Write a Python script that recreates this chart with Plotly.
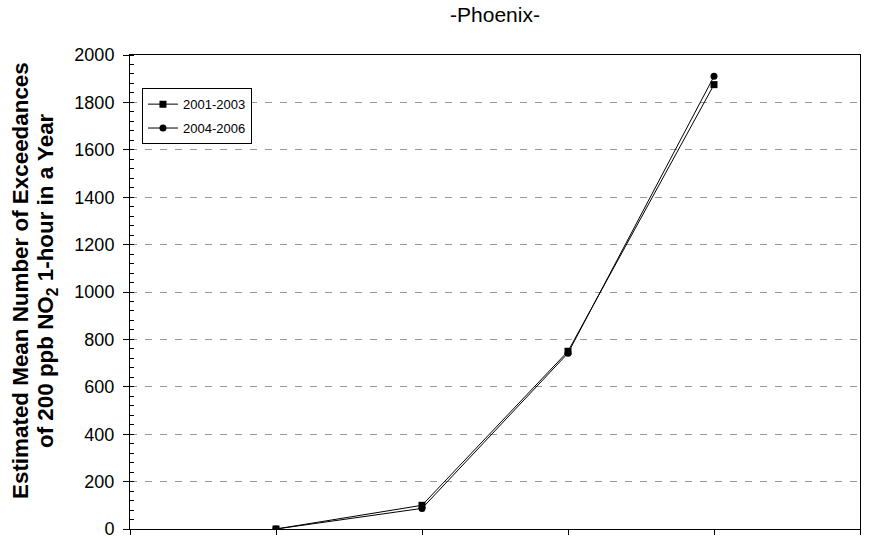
import plotly.graph_objects as go

# Data
categories = [1, 2, 3, 4]
series_names = ["2001-2003", "2004-2006"]
values_2001_2003 = [0, 100, 750, 1875]
values_2004_2006 = [0, 87, 742, 1910]
y_ticks = list(range(0, 2001, 200))
y_title_lines = ["Estimated Mean Number of Exceedances",
                 "of 200 ppb NO<sub>2</sub> 1-hour in a Year"]

FONT = "Liberation Sans, Arial, sans-serif"
L, R, T, B, W, H = 130, 17, 55, 10, 877, 539
PW = W - L - R
PH = H - T - B

fig = go.Figure()
fig.add_trace(go.Scatter(
    x=categories, y=values_2001_2003, name=series_names[0], mode="lines+markers",
    line=dict(color="black", width=1),
    marker=dict(symbol="square", size=7, color="black"),
    legendgroup="a",
))
fig.add_trace(go.Scatter(
    x=categories, y=values_2004_2006, name=series_names[1], mode="lines+markers",
    line=dict(color="black", width=1),
    marker=dict(symbol="circle", size=7, color="black"),
    legendgroup="b",
))

fig.update_layout(
    width=W, height=H,
    margin=dict(l=L, r=R, t=T, b=B),
    paper_bgcolor="white", plot_bgcolor="white",
    font=dict(family=FONT, color="black", size=18),
    title=dict(text="-Phoenix-", x=0.5, xref="paper", xanchor="center",
               y=1 - 15 / H, yref="container", yanchor="middle",
               font=dict(size=21, family=FONT)),
    showlegend=True,
    legend=dict(x=0.0164, y=0.93, xanchor="left", yanchor="top",
                bordercolor="black", borderwidth=1, bgcolor="white",
                font=dict(size=13, family=FONT), tracegroupgap=4,
                traceorder="grouped", entrywidth=80, entrywidthmode="pixels"),
)

# Y-axis title as two rotated text lines
for px, line in zip([20, 47], y_title_lines):
    fig.add_annotation(
        text="<b>" + line + "</b>", xref="paper", yref="paper",
        x=(px - L) / PW, y=(529 - 281) / PH, xanchor="center", yanchor="middle",
        textangle=-90, showarrow=False, font=dict(size=22.4, family=FONT, color="black"),
    )

fig.update_xaxes(
    range=[0, 5], tickvals=[0, 1, 2, 3, 4, 5], showticklabels=False,
    ticks="outside", ticklen=5, tickcolor="black",
    showline=True, linecolor="black", linewidth=1, mirror=True,
    showgrid=False, zeroline=False, automargin=False,
)
fig.update_yaxes(
    range=[0, 2000], tickvals=y_ticks, ticks="outside", ticklen=6, tickcolor="black",
    tickfont=dict(size=18, family=FONT), ticklabelstandoff=5, ticklabeloverflow="allow",
    showline=True, linecolor="black", linewidth=1, mirror=True,
    showgrid=True, gridcolor="#999999", gridwidth=1, griddash="7px,8px",
    zeroline=True, zerolinecolor="black", zerolinewidth=2,
    minor=dict(dtick=40, ticks="inside", ticklen=4, tickcolor="black", showgrid=False),
    automargin=False,
)

fig.write_html("out.html", config={"displayModeBar": False},
               post_script="document.body.style.margin='0';document.body.style.overflow='hidden';")
